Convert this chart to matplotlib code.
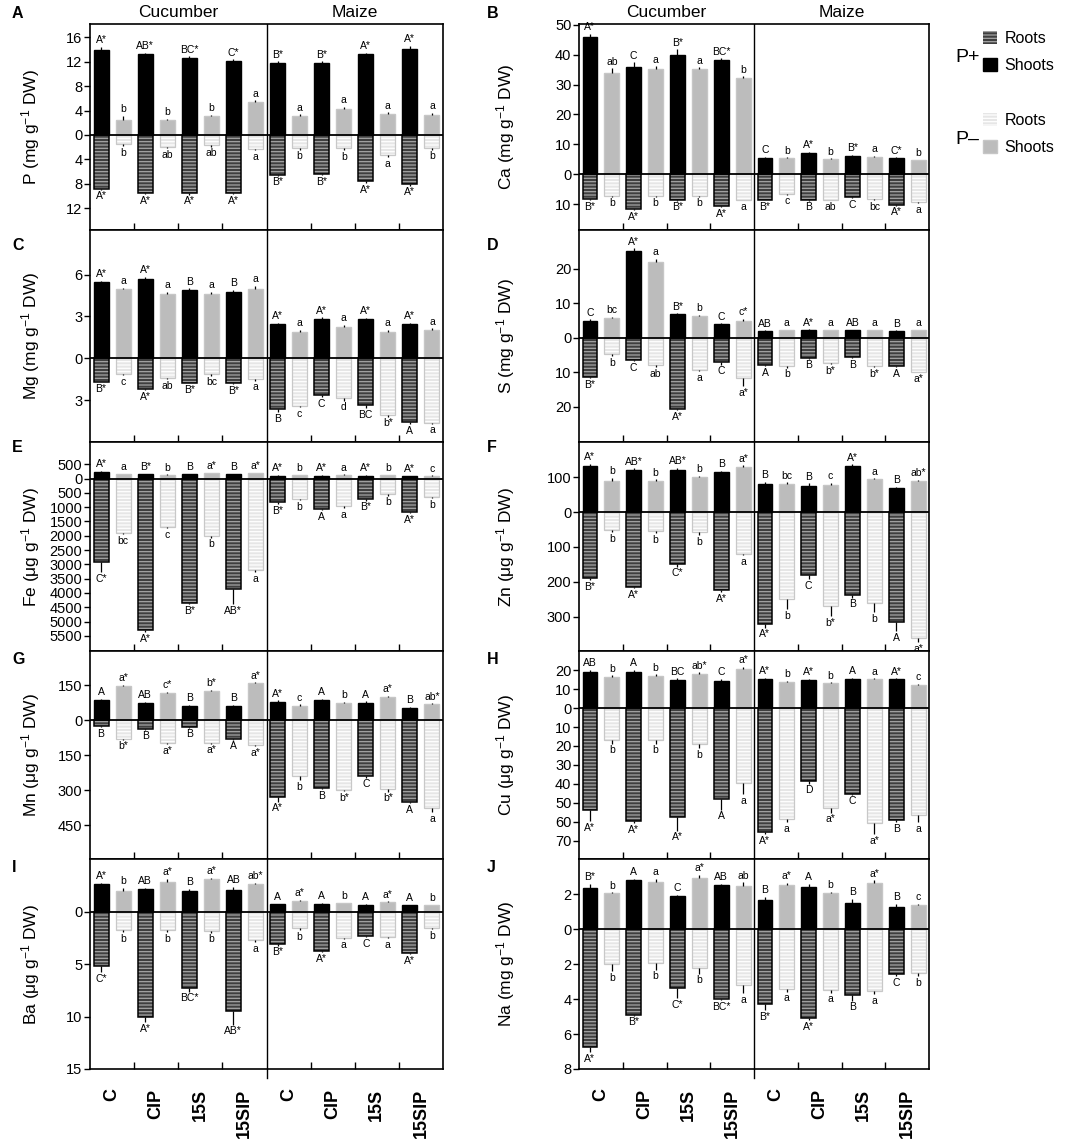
import numpy as np
import matplotlib
matplotlib.use("Agg")
import matplotlib.pyplot as plt
from matplotlib.patches import Patch
from matplotlib.ticker import FuncFormatter

plt.rcParams['font.family'] = ['Liberation Sans', 'DejaVu Sans']
plt.rcParams['mathtext.fontset'] = 'custom'
plt.rcParams['mathtext.rm'] = 'Liberation Sans'
plt.rcParams['mathtext.it'] = 'Liberation Sans:italic'
plt.rcParams['mathtext.bf'] = 'Liberation Sans:bold'
plt.rcParams['hatch.linewidth'] = 0.9

# bars are interleaved: (P+, P-) for C, CIP, 15S, 15SIP of cucumber, then maize
treatments = ['C', 'CIP', '15S', '15SIP', 'C', 'CIP', '15S', '15SIP']
crops = ['Cucumber', 'Maize']

# ---- P (mg/g) ----
P_shoot = [13.9, 2.5, 13.3, 2.4, 12.7, 3.1, 12.1, 5.4, 11.8, 3.1, 11.8, 4.2, 13.3, 3.4, 14.1, 3.2]
P_root = [8.8, 1.5, 9.5, 1.9, 9.6, 1.7, 9.5, 2.3, 6.5, 2.1, 6.4, 2.2, 7.6, 3.3, 8.0, 2.2]
P_shoot_err = [0.5, 0.6, 0.2, 0.2, 0.2, 0.2, 0.3, 0.3, 0.3, 0.3, 0.3, 0.4, 0.2, 0.3, 0.5, 0.4]
P_root_err = [0.2, 0.3, 0.2, 0.3, 0.2, 0.2, 0.2, 0.2, 0.2, 0.3, 0.2, 0.3, 0.3, 0.3, 0.3, 0.2]
P_shoot_lab = "A* b AB* b BC* b C* a B* a B* a A* a A* a".split()
P_root_lab = "A* b A* ab A* ab A* a B* b B* b A* a A* b".split()

# ---- Ca (mg/g) ----
Ca_shoot = [46.0, 34.0, 36.0, 35.3, 40.0, 35.3, 38.2, 32.2, 5.5, 5.3, 7.2, 5.0, 6.2, 5.9, 5.3, 4.7]
Ca_root = [8.3, 7.2, 11.7, 7.2, 8.6, 7.2, 10.6, 8.5, 8.5, 6.6, 8.6, 8.5, 7.7, 8.4, 10.2, 9.4]
Ca_shoot_err = [1.0, 1.5, 1.5, 0.8, 1.8, 0.5, 0.6, 0.6, 0.3, 0.3, 0.3, 0.3, 0.3, 0.2, 0.3, 0.2]
Ca_root_err = [0.3, 0.3, 0.3, 0.3, 0.3, 0.3, 0.5, 0.3, 0.3, 0.3, 0.3, 0.3, 0.3, 0.3, 0.3, 0.3]
Ca_shoot_lab = "A* ab C a B* a BC* b C b A* b B* a C* b".split()
Ca_root_lab = "B* b A* b B* b A* a B* c B ab C bc A* a".split()

# ---- Mg (mg/g) ----
Mg_shoot = [5.47, 4.96, 5.68, 4.6, 4.87, 4.63, 4.72, 4.96, 2.45, 1.92, 2.85, 2.28, 2.8, 1.92, 2.45, 2.04]
Mg_root = [1.68, 1.13, 2.23, 1.39, 1.75, 1.15, 1.8, 1.5, 3.65, 3.4, 2.64, 2.88, 3.36, 4.08, 4.56, 4.63]
Mg_shoot_err = [0.1, 0.1, 0.15, 0.15, 0.15, 0.15, 0.2, 0.25, 0.1, 0.1, 0.08, 0.1, 0.1, 0.1, 0.08, 0.1]
Mg_root_err = [0.05, 0.1, 0.05, 0.1, 0.05, 0.1, 0.05, 0.1, 0.2, 0.1, 0.15, 0.15, 0.2, 0.1, 0.15, 0.05]
Mg_shoot_lab = "A* a A* a B a B a A* a A* a A* a A* a".split()
Mg_root_lab = "B* c A* ab B* bc B* a B c C d BC b* A a".split()

# ---- S (mg/g) ----
S_shoot = [4.95, 5.6, 25.2, 22.1, 6.8, 6.4, 4.0, 4.85, 2.0, 2.1, 2.2, 2.1, 2.2, 2.2, 2.0, 2.1]
S_root = [11.4, 4.8, 6.5, 8.0, 20.6, 9.5, 7.2, 11.6, 7.8, 8.3, 5.8, 7.3, 5.6, 8.3, 8.3, 9.9]
S_shoot_err = [0.4, 0.5, 0.8, 0.8, 0.3, 0.3, 0.2, 0.6, 0.1, 0.1, 0.2, 0.1, 0.1, 0.1, 0.1, 0.1]
S_root_err = [0.4, 0.6, 0.4, 0.6, 0.5, 0.3, 0.6, 2.5, 0.5, 0.4, 0.3, 0.4, 0.3, 0.3, 0.3, 0.2]
S_shoot_lab = "C bc A* a B* b C c* AB a A* a AB a B a".split()
S_root_lab = "B* b C ab A* a C a* A b B b* B b* A a*".split()

# ---- Fe (ug/g) ----
Fe_shoot = [230, 150, 150, 130, 150, 180, 150, 190, 100, 110, 100, 130, 100, 110, 80, 90]
Fe_root = [2900, 1900, 5300, 1700, 4350, 2000, 3850, 3200, 830, 715, 1065, 970, 715, 540, 1170, 645]
Fe_shoot_err = [30, 20, 20, 20, 20, 20, 20, 20, 20, 20, 20, 20, 20, 20, 20, 20]
Fe_root_err = [380, 40, 60, 40, 50, 70, 550, 80, 60, 40, 40, 60, 60, 60, 50, 40]
Fe_shoot_lab = "A* a B* b B a* B a* A* b A* a A* b A* c".split()
Fe_root_lab = "C* bc A* c B* b AB* a B* b A a B* b A* b".split()

# ---- Zn (ug/g) ----
Zn_shoot = [132, 90, 121, 89, 121, 100, 114, 130, 81, 80, 76, 78, 132, 94, 69, 90]
Zn_root = [190, 51, 215, 55, 150, 58, 223, 120, 322, 249, 181, 269, 238, 262, 317, 362]
Zn_shoot_err = [6, 8, 4, 5, 6, 4, 4, 4, 6, 5, 6, 5, 5, 3, 3, 3]
Zn_root_err = [5, 6, 4, 6, 7, 8, 8, 4, 10, 30, 12, 30, 8, 25, 25, 12]
Zn_shoot_lab = "A* b AB* b AB* b B a* B bc B c A* a B ab*".split()
Zn_root_lab = "B* b A* b C* b A* a A* b C b* B b A a*".split()

# ---- Mn (ug/g) ----
Mn_shoot = [86, 147, 76, 116, 60, 127, 63, 159, 80, 63, 87, 76, 76, 101, 54, 70]
Mn_root = [26, 79, 36, 97, 27, 96, 80, 106, 329, 237, 290, 299, 240, 296, 350, 374]
Mn_shoot_err = [5, 4, 4, 6, 5, 4, 3, 4, 6, 5, 4, 4, 5, 5, 3, 3]
Mn_root_err = [4, 4, 4, 4, 4, 4, 3, 4, 20, 20, 5, 5, 5, 10, 4, 20]
Mn_shoot_lab = "A a* AB c* B b* B a* A* c A b A a* B ab*".split()
Mn_root_lab = "B b* B a* B a* A a* A* b B b* C b* A a".split()

# ---- Cu (ug/g) ----
Cu_shoot = [18.8, 16.3, 19.1, 16.8, 14.7, 18.1, 14.5, 20.4, 15.2, 13.7, 14.9, 13.1, 15.4, 15.2, 15.1, 12.2]
Cu_root = [53.7, 16.7, 59.6, 16.8, 57.6, 19.0, 48.0, 39.4, 65.4, 58.5, 38.3, 52.7, 45.2, 60.5, 59.2, 56.2]
Cu_shoot_err = [1.5, 1.0, 1.0, 1.0, 1.0, 0.8, 0.8, 1.2, 0.6, 0.6, 0.5, 0.5, 0.5, 0.5, 0.5, 0.5]
Cu_root_err = [6, 2, 1, 2, 7, 2, 5.5, 6, 1, 1.5, 1.5, 2.5, 0.5, 6, 1, 4]
Cu_shoot_lab = "AB b A b BC ab* C a* A* b A* b A a A* c".split()
Cu_root_lab = "A* b A* b A* b A a A* a D a* C a* B a".split()

# ---- Ba (ug/g) ----
Ba_shoot = [2.63, 1.96, 2.15, 2.82, 2.0, 3.13, 2.06, 2.63, 0.7, 1.04, 0.76, 0.79, 0.66, 0.92, 0.6, 0.63]
Ba_root = [5.19, 1.74, 10.06, 1.74, 7.31, 1.8, 9.46, 2.69, 3.1, 1.58, 3.77, 2.47, 2.31, 2.41, 3.92, 1.58]
Ba_shoot_err = [0.1, 0.35, 0.1, 0.3, 0.2, 0.1, 0.3, 0.1, 0.08, 0.1, 0.06, 0.08, 0.08, 0.06, 0.05, 0.05]
Ba_root_err = [0.6, 0.2, 0.5, 0.2, 0.3, 0.2, 1.3, 0.2, 0.15, 0.15, 0.1, 0.1, 0.1, 0.1, 0.1, 0.1]
Ba_shoot_lab = "A* b AB a* B a* AB ab* A a* A b A a* A b".split()
Ba_root_lab = "C* b A* b BC* b AB* a B* b A* a C a A* b".split()

# ---- Na (mg/g) ----
Na_shoot = [2.36, 2.07, 2.82, 2.72, 1.9, 2.91, 2.51, 2.49, 1.67, 2.55, 2.41, 2.07, 1.53, 2.64, 1.3, 1.36]
Na_root = [6.74, 1.99, 4.89, 1.92, 3.39, 2.24, 4.02, 3.2, 4.29, 3.43, 5.06, 3.49, 3.79, 3.56, 2.59, 2.53]
Na_shoot_err = [0.25, 0.05, 0.05, 0.15, 0.05, 0.2, 0.1, 0.2, 0.18, 0.12, 0.18, 0.08, 0.2, 0.15, 0.15, 0.1]
Na_root_err = [0.3, 0.4, 0.05, 0.4, 0.55, 0.3, 0.05, 0.45, 0.35, 0.15, 0.15, 0.15, 0.3, 0.15, 0.1, 0.15]
Na_shoot_lab = "B* b A a C a* AB ab B a* A b B a* B c".split()
Na_root_lab = "A* b B* b C* b BC* a B* a A* a B a C b".split()

mg = "(mg g$^{-1}$ DW)"
ug = "(\u03bcg g$^{-1}$ DW)"
# letter, ylabel, data, yticks, ylim
panels = [
    ('A', 'P ' + mg, P_shoot, P_root, P_shoot_err, P_root_err, P_shoot_lab, P_root_lab,
     [16, 12, 8, 4, 0, -4, -8, -12], (-15.6, 18.2)),
    ('B', 'Ca ' + mg, Ca_shoot, Ca_root, Ca_shoot_err, Ca_root_err, Ca_shoot_lab, Ca_root_lab,
     [50, 40, 30, 20, 10, 0, -10], (-18.7, 50.3)),
    ('C', 'Mg ' + mg, Mg_shoot, Mg_root, Mg_shoot_err, Mg_root_err, Mg_shoot_lab, Mg_root_lab,
     [6, 3, 0, -3], (-6.0, 9.2)),
    ('D', 'S ' + mg, S_shoot, S_root, S_shoot_err, S_root_err, S_shoot_lab, S_root_lab,
     [20, 10, 0, -10, -20], (-30.3, 31.3)),
    ('E', 'Fe ' + ug, Fe_shoot, Fe_root, Fe_shoot_err, Fe_root_err, Fe_shoot_lab, Fe_root_lab,
     list(range(500, -6000, -500)), (-6030, 1280)),
    ('F', 'Zn ' + ug, Zn_shoot, Zn_root, Zn_shoot_err, Zn_root_err, Zn_shoot_lab, Zn_root_lab,
     [100, 0, -100, -200, -300], (-399, 201)),
    ('G', 'Mn ' + ug, Mn_shoot, Mn_root, Mn_shoot_err, Mn_root_err, Mn_shoot_lab, Mn_root_lab,
     [150, 0, -150, -300, -450], (-594, 297)),
    ('H', 'Cu ' + ug, Cu_shoot, Cu_root, Cu_shoot_err, Cu_root_err, Cu_shoot_lab, Cu_root_lab,
     [20, 10, 0, -10, -20, -30, -40, -50, -60, -70], (-79.6, 30.1)),
    ('I', 'Ba ' + ug, Ba_shoot, Ba_root, Ba_shoot_err, Ba_root_err, Ba_shoot_lab, Ba_root_lab,
     [0, -5, -10, -15], (-15, 5.03)),
    ('J', 'Na ' + mg, Na_shoot, Na_root, Na_shoot_err, Na_root_err, Na_shoot_lab, Na_root_lab,
     [2, 0, -2, -4, -6, -8], (-8, 4.02)),
]

# colours
shoot_cols = ['black', '#bcbcbc']
shoot_edges = ['black', '#c6c6c6']
root_face = ['#3f3f3f', '#e6e6e6']
root_stripe = ['#a4a4a4', 'white']
root_edges = ['black', '#c8c8c8']
hatch = '-----'

W, H = 1084, 1141
fig = plt.figure(figsize=(W / 100, H / 100), dpi=100)

row_px = [24, 230, 442, 651, 859, 1069]
col_px = [(90, 353), (579, 350)]
ylab_x = [-0.136, -0.177]
letter_x = [12, 487]
letter_y = [14, 246, 447, 659, 867]

x = np.arange(16) + 0.5
bw = 0.68

for i, (let, ylab, sh, rt, she, rte, shl, rtl, yt, yl) in enumerate(panels):
    row, col = divmod(i, 2)
    l, w = col_px[col]
    t, b = row_px[row], row_px[row + 1]
    ax = fig.add_axes([l / W, 1 - b / H, w / W, (b - t) / H])

    sh = np.array(sh, float)
    rt = np.array(rt, float)
    she = np.array(she, float)
    rte = np.array(rte, float)
    for k in range(2):
        idx = np.arange(k, 16, 2)
        ax.bar(x[idx], sh[idx], bw, color=shoot_cols[k], edgecolor=shoot_edges[k],
               linewidth=1.0, zorder=2)
        ax.bar(x[idx], -rt[idx], bw, color=root_face[k], edgecolor=root_stripe[k],
               linewidth=0, hatch=hatch, zorder=2)
        ax.bar(x[idx], -rt[idx], bw, fill=False, edgecolor=root_edges[k],
               linewidth=1.1 if k == 0 else 0.9, zorder=2.5)
    z = np.zeros(16)
    ax.errorbar(x, sh, yerr=[z, she], fmt='none', ecolor='black', elinewidth=0.9,
                capsize=0, zorder=3)
    ax.errorbar(x, -rt, yerr=[rte, z], fmt='none', ecolor='black', elinewidth=0.9,
                capsize=0, zorder=3)
    for j in range(16):
        ax.annotate(shl[j], (x[j], sh[j] + she[j]), xytext=(0, 1.2),
                    textcoords='offset points', ha='center', va='bottom', fontsize=7.5)
        ax.annotate(rtl[j], (x[j], -(rt[j] + rte[j])), xytext=(0, -1.2),
                    textcoords='offset points', ha='center', va='top', fontsize=7.5)

    ax.axhline(0, color='black', lw=1.3, zorder=4)
    ax.axvline(8, color='black', lw=1.0, zorder=4,
               ymin=-0.045 if row == 4 else 0, clip_on=(row != 4))
    ax.set_xlim(0, 16)
    ax.set_ylim(*yl)
    ax.set_yticks(yt)
    ax.yaxis.set_major_formatter(FuncFormatter(lambda v, p: f"{abs(v):g}"))
    ax.tick_params(axis='y', direction='out', length=4, width=1, labelsize=10.5, pad=1.5)
    ax.set_xticks([2, 4, 6, 10, 12, 14])
    ax.tick_params(axis='x', which='major', direction='in', length=5, width=1,
                   labelbottom=False)
    if row == 4:
        ax.set_xticks(x[::2] + 0.5, treatments, minor=True)
        ax.tick_params(axis='x', which='minor', length=0, pad=14, labelsize=13,
                       labelrotation=90)
        for lab in ax.get_xticklabels(minor=True):
            lab.set_fontweight('bold')
            lab.set_va('top')
    for s in ax.spines.values():
        s.set_linewidth(1.2)
    ax.set_ylabel(ylab, fontsize=12.5)
    ax.yaxis.set_label_coords(ylab_x[col], 0.5)
    if row == 0:
        for c, xc in zip(crops, [0.25, 0.75]):
            ax.text(xc, 1.02, c, transform=ax.transAxes, ha='center', va='bottom',
                    fontsize=12.5)
    fig.text(letter_x[col] / W, 1 - letter_y[row] / H, let, fontsize=11.5,
             fontweight='bold', ha='left', va='center')

# legend
h_pp = [Patch(facecolor=root_face[0], edgecolor=root_stripe[0], hatch=hatch, lw=0),
        Patch(facecolor='black', edgecolor='black')]
h_pm = [Patch(facecolor=root_face[1], edgecolor='white', hatch=hatch, lw=0),
        Patch(facecolor=shoot_cols[1], edgecolor=shoot_edges[1])]
for hs, ytop, tag, ytag in [(h_pp, 31, 'P+', 57), (h_pm, 113, 'P\u2013', 140)]:
    fig.legend(hs, ['Roots', 'Shoots'], loc='upper left',
               bbox_to_anchor=(983 / W, 1 - ytop / H), frameon=False, fontsize=11.5,
               handlelength=0.85, handleheight=0.85, handletextpad=0.5,
               labelspacing=0.75, borderpad=0, borderaxespad=0)
    fig.text(955 / W, 1 - ytag / H, tag, fontsize=14, ha='left', va='center')

fig.savefig('out.png', dpi=100)
